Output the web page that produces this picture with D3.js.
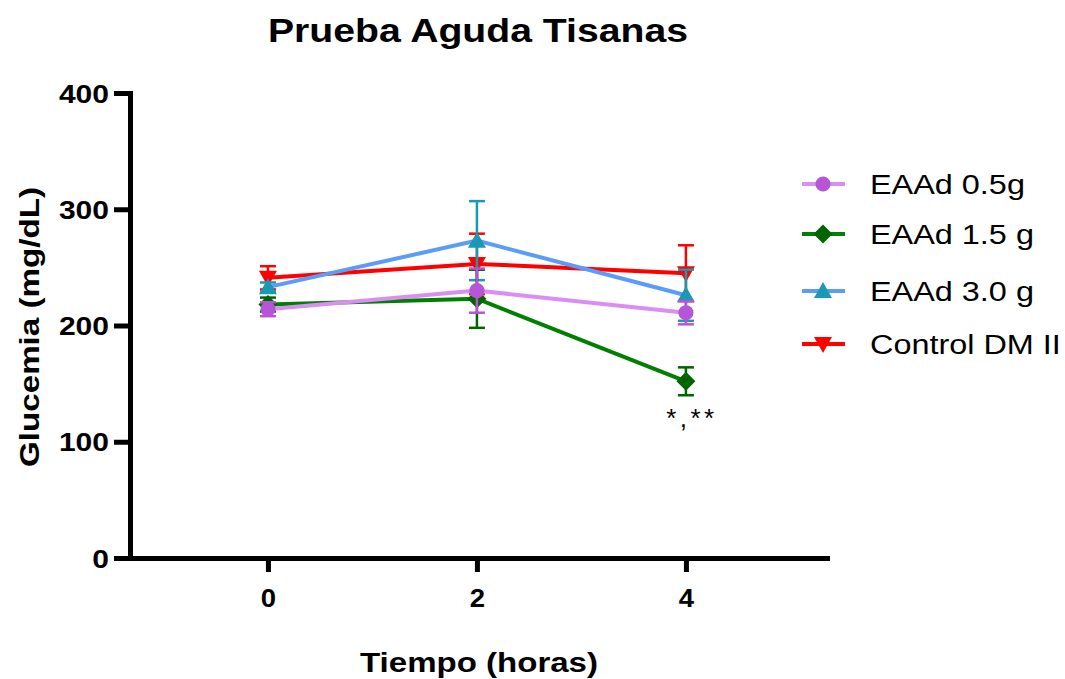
<!DOCTYPE html>
<html lang="es">
<head>
    <meta charset="UTF-8">
    <title>Prueba Aguda Tisanas</title>
    <style>
        body {
            margin: 0;
            background-color: #FFFFFF;
            font-family: Arial, "Liberation Sans", sans-serif;
        }
        svg text {
            fill: #000000;
        }
    </style>
</head>
<body>
    <svg id="chart" width="1065" height="679"></svg>

    <script src="https://d3js.org/d3.v7.min.js"></script>
    <script>
        // Data (mean and error per time point)
        const times = [0, 2, 4];
        const yTicks = [0, 100, 200, 300, 400];
        const seriesNames = ["EAAd 0.5g", "EAAd 1.5 g", "EAAd 3.0 g", "Control DM II"];

        const means05 = [214, 230, 211];
        const err05 = [6, 19, 10];
        const means15 = [218, 223, 152];
        const err15 = [6, 25, 12];
        const means30 = [233, 273, 226];
        const err30 = [4, 34, 22];
        const meansCtrl = [241, 253, 245];
        const errCtrl = [10, 26, 24];

        const annotation = { time: 4, text: "*,**" };

        const styles = [
            { line: "#DA8DF3", marker: "#B655D6", shape: "circle" },
            { line: "#008000", marker: "#006400", shape: "diamond" },
            { line: "#5A9CF8", marker: "#1999B3", shape: "triangleUp" },
            { line: "#FF0000", marker: "#FF0000", shape: "triangleDown" }
        ];

        const series = seriesNames.map((name, i) => ({
            name: name,
            means: [means05, means15, means30, meansCtrl][i],
            errs: [err05, err15, err30, errCtrl][i],
            style: styles[i]
        }));

        const svg = d3.select("#chart");

        const x = d3.scaleLinear().domain([-1.32, 5.35]).range([130, 827]);
        const y = d3.scaleLinear().domain([0, 400]).range([558, 93]);

        // the reference text is drawn a bit wider than plain Arial
        function widen(sel, factor) {
            sel.each(function () {
                const w = this.getComputedTextLength();
                d3.select(this)
                    .attr("textLength", w * factor)
                    .attr("lengthAdjust", "spacingAndGlyphs");
            });
        }

        // marker path generator
        function markerPath(shape) {
            if (shape === "circle") {
                return d3.symbol().type(d3.symbolCircle).size(180)();
            }
            if (shape === "diamond") {
                return "M0,-9.5L9.5,0L0,9.5L-9.5,0Z";
            }
            if (shape === "triangleUp") {
                return "M0,-9L9,7L-9,7Z";
            }
            return "M0,9L9,-7L-9,-7Z";
        }

        // Title
        svg.append("text")
            .attr("x", 478)
            .attr("y", 42)
            .attr("text-anchor", "middle")
            .attr("font-size", "33px")
            .attr("font-weight", "bold")
            .attr("textLength", 420)
            .attr("lengthAdjust", "spacingAndGlyphs")
            .text("Prueba Aguda Tisanas");

        // Y axis
        const yAxis = svg.append("g")
            .attr("transform", "translate(130,0)")
            .call(d3.axisLeft(y).tickValues(yTicks).tickSize(16).tickSizeOuter(0).tickPadding(5));

        yAxis.select(".domain").attr("stroke-width", 5).attr("stroke-linecap", "square");
        yAxis.selectAll(".tick line").attr("stroke-width", 5);
        yAxis.selectAll(".tick text")
            .attr("font-size", "25px")
            .attr("font-weight", "bold")
            .attr("font-family", "Arial, 'Liberation Sans', sans-serif")
            .attr("dy", "0.36em")
            .call(widen, 1.2);

        // X axis
        const xAxis = svg.append("g")
            .attr("transform", "translate(0,558)")
            .call(d3.axisBottom(x).tickValues(times).tickFormat(d3.format("d"))
                .tickSize(14).tickSizeOuter(0).tickPadding(17));

        xAxis.select(".domain").attr("stroke-width", 5).attr("stroke-linecap", "square");
        xAxis.selectAll(".tick line").attr("stroke-width", 5);
        xAxis.selectAll(".tick text")
            .attr("font-size", "25px")
            .attr("font-weight", "bold")
            .attr("font-family", "Arial, 'Liberation Sans', sans-serif")
            .call(widen, 1.1);

        // Axis titles
        svg.append("text")
            .attr("transform", "translate(39,327) rotate(-90)")
            .attr("text-anchor", "middle")
            .attr("font-size", "27px")
            .attr("font-weight", "bold")
            .attr("textLength", 280)
            .attr("lengthAdjust", "spacingAndGlyphs")
            .text("Glucemia (mg/dL)");

        svg.append("text")
            .attr("x", 479)
            .attr("y", 672)
            .attr("text-anchor", "middle")
            .attr("font-size", "27px")
            .attr("font-weight", "bold")
            .attr("textLength", 238)
            .attr("lengthAdjust", "spacingAndGlyphs")
            .text("Tiempo (horas)");

        // Lines, error bars and markers, drawn last series first
        const line = d3.line()
            .x((d, i) => x(times[i]))
            .y(d => y(d));

        const plot = svg.append("g");

        series.slice().reverse().forEach(s => {
            const g = plot.append("g");

            g.append("path")
                .datum(s.means)
                .attr("fill", "none")
                .attr("stroke", s.style.line)
                .attr("stroke-width", 4)
                .attr("d", line);

            s.means.forEach((m, i) => {
                const cx = x(times[i]);
                const top = y(m + s.errs[i]);
                const bottom = y(m - s.errs[i]);
                g.append("line")
                    .attr("x1", cx).attr("x2", cx)
                    .attr("y1", top).attr("y2", bottom)
                    .attr("stroke", s.style.marker)
                    .attr("stroke-width", 2.5);
                [top, bottom].forEach(cy => {
                    g.append("line")
                        .attr("x1", cx - 8).attr("x2", cx + 8)
                        .attr("y1", cy).attr("y2", cy)
                        .attr("stroke", s.style.marker)
                        .attr("stroke-width", 2.5);
                });
            });

            g.selectAll(".marker")
                .data(s.means)
                .enter()
                .append("path")
                .attr("class", "marker")
                .attr("transform", (d, i) => `translate(${x(times[i])},${y(d)})`)
                .attr("d", markerPath(s.style.shape))
                .attr("fill", s.style.marker);
        });

        // Significance annotation under the 1.5 g point
        svg.append("text")
            .attr("x", x(annotation.time) + 6)
            .attr("y", 427)
            .attr("text-anchor", "middle")
            .attr("font-size", "26px")
            .attr("letter-spacing", "3.5px")
            .text(annotation.text);

        // Legend
        const legend = svg.append("g");
        const legendY = [184, 234, 291, 344];

        series.forEach((s, i) => {
            const row = legend.append("g")
                .attr("transform", `translate(0,${legendY[i]})`);

            row.append("line")
                .attr("x1", 802).attr("x2", 845)
                .attr("y1", 0).attr("y2", 0)
                .attr("stroke", s.style.line)
                .attr("stroke-width", 4);

            row.append("path")
                .attr("transform", "translate(823,0)")
                .attr("d", markerPath(s.style.shape))
                .attr("fill", s.style.marker);

            row.append("text")
                .attr("x", 870)
                .attr("y", 0)
                .attr("dy", "0.36em")
                .attr("font-size", "27px")
                .text(s.name)
                .call(widen, 1.2);
        });
    </script>
</body>
</html>
